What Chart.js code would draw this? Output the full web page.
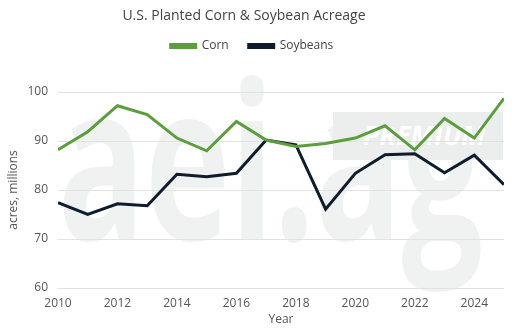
<!DOCTYPE html>
<html>
<head>
<meta charset="utf-8">
<script src="https://cdn.jsdelivr.net/npm/chart.js@4.4.1/dist/chart.umd.min.js"></script>
<style>
  html,body{margin:0;padding:0;background:#fff;}
  #wrap{position:relative;width:520px;height:336px;}
  #title{position:absolute;left:0;top:5px;width:488px;text-align:center;font:14px "Open Sans",sans-serif;color:#444;}
</style>
</head>
<body>
<div id="wrap">
  <canvas id="acreChart" width="520" height="336"></canvas>
  <div id="title">U.S. Planted Corn &amp; Soybean Acreage</div>
</div>
<script>
(function(){
  // acres planted, millions
  const years = [2010,2011,2012,2013,2014,2015,2016,2017,2018,2019,2020,2021,2022,2023,2024,2025];
  const corn = [88.2,91.9,97.2,95.4,90.6,88.0,94.0,90.2,88.9,89.5,90.6,93.1,88.2,94.6,90.6,98.7];
  const soybeans = [77.4,75.0,77.2,76.8,83.2,82.7,83.4,90.2,89.2,76.1,83.4,87.2,87.4,83.5,87.1,81.1];
  const yTicks = [60,70,80,90,100];

  const textColor = '#555';
  const font = '"Open Sans", sans-serif';

  // background logo
  const watermark = {
    id:'watermark',
    beforeDraw(chart){
      const c = chart.ctx;
      c.save();
      c.textBaseline = 'alphabetic';
      c.textAlign = 'left';
      c.fillStyle = '#f0f2f1';
      c.font = 'bold 218px ' + font;
      c.translate(58, 240);
      c.scale(0.66, 1);
      c.fillText('aei.ag', 0, 0);
      c.restore();
      c.save();
      c.fillStyle = '#eceeed';
      c.fillRect(333, 112, 170, 48);
      c.textBaseline = 'alphabetic';
      c.textAlign = 'left';
      c.fillStyle = '#fff';
      c.font = 'italic bold 27px ' + font;
      c.fillText('PREMIUM', 363, 145);
      c.restore();
    }
  };

  // push plot area down below legend
  const legendGap = {
    id:'legendGap',
    beforeInit(chart){
      const fit = chart.legend.fit;
      chart.legend.fit = function(){ fit.bind(chart.legend)(); this.height += 30; };
    }
  };

  const ctx = document.getElementById('acreChart').getContext('2d');
  new Chart(ctx, {
    type:'line',
    data:{
      datasets:[
        { label:'Corn', data: years.map((y,i)=>({x:y, y:corn[i]})), borderColor:'#5b9e3c', backgroundColor:'#5b9e3c', borderWidth:3, pointRadius:0, tension:0 },
        { label:'Soybeans', data: years.map((y,i)=>({x:y, y:soybeans[i]})), borderColor:'#0f1c2c', backgroundColor:'#0f1c2c', borderWidth:3, pointRadius:0, tension:0 }
      ]
    },
    options:{
      responsive:false,
      animation:false,
      layout:{ padding:{ top:20, right:16, bottom:9, left:0 } },
      plugins:{
        legend:{ position:'top', labels:{ color:'#444', font:{ family:font, size:12 }, boxWidth:25, boxHeight:3, padding:20 } },
        tooltip:{ enabled:false }
      },
      scales:{
        x:{
          type:'linear', min:2010, max:2025,
          grid:{ display:false },
          border:{ display:false },
          afterBuildTicks: s=>{ s.ticks = years.filter(y=>y%2===0).map(v=>({value:v})); },
          afterFit: s=>{ s.height = 39; },
          ticks:{ autoSkip:false, maxRotation:0, color:textColor, font:{ family:font, size:12 }, padding:0, callback:v=> String(v) },
          title:{ display:true, text:'Year', color:textColor, font:{ family:font, size:12 }, padding:{ top:0, bottom:0 } }
        },
        y:{
          min:60, max:100,
          afterBuildTicks: s=>{ s.ticks = yTicks.map(v=>({value:v})); },
          afterFit: s=>{ s.width = 58; },
          grid:{ color:'#e2e2e2', drawTicks:false },
          border:{ display:false },
          ticks:{ color:textColor, font:{ family:font, size:12 }, padding:10 },
          title:{ display:true, text:'acres, millions', color:textColor, font:{ family:font, size:12 }, padding:{ top:6, bottom:0 } }
        }
      }
    },
    plugins:[watermark, legendGap]
  });
})();
</script>
</body>
</html>
